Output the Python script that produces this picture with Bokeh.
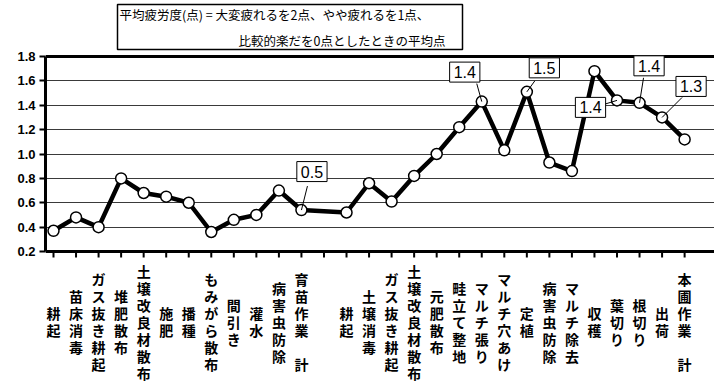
from bokeh.plotting import figure
from bokeh.models import Label, FixedTicker, NumeralTickFormatter, Span, BoxAnnotation
from bokeh.embed import file_html
from bokeh.resources import INLINE

categories = ["耕起", "苗床消毒", "ガス抜き耕起", "堆肥散布", "土壌改良材散布", "施肥", "播種",
              "もみがら散布", "間引き", "灌水", "病害虫防除", "育苗作業　計", "",
              "耕起", "土壌消毒", "ガス抜き耕起", "土壌改良材散布", "元肥散布", "畦立て整地",
              "マルチ張り", "マルチ穴あけ", "定植", "病害虫防除", "マルチ除去", "収穫", "葉切り",
              "根切り", "出荷", "本圃作業　計"]
values = [0.37, 0.48, 0.40, 0.80, 0.68, 0.65, 0.60, 0.36, 0.46, 0.50, 0.70, 0.54, None,
          0.52, 0.76, 0.61, 0.82, 1.00, 1.22, 1.43, 1.03, 1.51, 0.93, 0.86, 1.68, 1.44,
          1.42, 1.30, 1.12]
y_ticks = [0.2, 0.4, 0.6, 0.8, 1.0, 1.2, 1.4, 1.6, 1.8]
callout_idx = [11, 19, 21, 25, 26, 27]
title_lines = ["平均疲労度(点) = 大変疲れるを2点、やや疲れるを1点、",
               "比較的楽だを0点としたときの平均点"]

# layout constants (pixels)
W, H = 714, 383
FL, FR = 45, 714          # frame left/right
AT, AB = 56, 251          # pixel rows of the 1.8 and 0.2 levels
XPX = 22.54
X0 = -(53 - FL) / XPX
X1 = X0 + (FR - FL) / XPX
YPX = (AB - AT) / (y_ticks[-1] - y_ticks[0])


def ypix(py):
    return y_ticks[-1] + (AT - py) / YPX


def xpix(px):
    return X0 + (px - FL) / XPX


p = figure(width=W, height=H, x_range=(X0, X1), y_range=(ypix(H), ypix(0)),
           output_backend="svg", toolbar_location=None, x_axis_location=None,
           min_border_left=FL, min_border_right=W - FR, min_border_top=0,
           min_border_bottom=0)
p.outline_line_color = None
p.background_fill_color = "white"
p.border_fill_color = "white"

# y axis
p.yaxis.bounds = (y_ticks[0], y_ticks[-1])
p.yaxis.ticker = FixedTicker(ticks=y_ticks)
p.yaxis.formatter = NumeralTickFormatter(format="0.0")
p.yaxis.axis_line_width = 3
p.yaxis.axis_line_color = "black"
p.yaxis.major_tick_out = 6
p.yaxis.major_tick_in = 0
p.yaxis.major_tick_line_width = 2
p.yaxis.minor_tick_line_color = None
p.yaxis.major_label_text_font = "Liberation Sans"
p.yaxis.major_label_text_font_style = "bold"
p.yaxis.major_label_text_font_size = "13px"
p.yaxis.major_label_text_color = "black"
p.yaxis.major_label_standoff = 4

p.xgrid.grid_line_color = None
p.ygrid.ticker = FixedTicker(ticks=y_ticks[1:-1])
p.ygrid.grid_line_color = "#3a3a3a"
p.ygrid.grid_line_width = 1

# category axis line, top border and ticks
p.add_layout(Span(location=y_ticks[0], dimension="width", line_color="black", line_width=3))
p.add_layout(Span(location=y_ticks[-1], dimension="width", line_color="black", line_width=3))
tick_x = list(range(len(categories)))
p.segment(x0=tick_x, y0=[y_ticks[0]] * len(tick_x), x1=tick_x,
          y1=[y_ticks[0] - 6 / YPX] * len(tick_x), line_color="black", line_width=2)

# data line
xs = [i for i, v in enumerate(values) if v is not None]
ys = [v for v in values if v is not None]
p.line(xs, ys, line_color="black", line_width=4.5)
p.scatter(xs, ys, size=11, fill_color="white", line_color="black", line_width=1.5)

# category labels (vertical, stacked characters)
for i, c in enumerate(categories):
    if not c:
        continue
    p.add_layout(Label(x=i, y=ypix(321), text="\n".join(c), text_align="center",
                       text_baseline="middle", text_font="Noto Sans CJK JP",
                       text_font_style="bold", text_font_size="14px",
                       text_line_height=0.85, text_color="black"))

# callouts: (box center offset dx, dy in px; leader start offset in px)
callout_style = {
    11: (10.5, -38.5, 6, -24),
    19: (-17, -29.5, -5, -18),
    21: (17.5, -24, 8, -11),
    25: (-26.5, 7, -13, 4),
    26: (9.5, -37, 4, -25),
    27: (29, -31, 20, -20),
}
for i in callout_idx:
    v = values[i]
    dx, dy, lx, ly = callout_style[i]
    p.segment(x0=[i + lx / XPX], y0=[v - ly / YPX], x1=[i], y1=[v],
              line_color="black", line_width=1)
    p.add_layout(Label(x=i + dx / XPX, y=v - dy / YPX, text=f"{v:.1f}",
                       text_align="center", text_baseline="middle",
                       text_font="Liberation Sans", text_font_size="16px",
                       text_color="black", background_fill_color="white",
                       border_line_color="black", border_line_width=1, padding=4))

# title box
p.add_layout(BoxAnnotation(left=xpix(117), right=xpix(462), top=ypix(4), bottom=ypix(49),
                           fill_color="white", fill_alpha=1, line_color="black",
                           line_alpha=1, line_width=1.5))
p.add_layout(Label(x=xpix(119), y=ypix(14), text=title_lines[0], text_align="left",
                   text_baseline="middle", text_font="Noto Sans CJK JP",
                   text_font_size="12.5px", text_color="black"))
p.add_layout(Label(x=xpix(238), y=ypix(39.5), text=title_lines[1], text_align="left",
                   text_baseline="middle", text_font="Noto Sans CJK JP",
                   text_font_size="12.5px", text_color="black"))

open("out.html", "w").write(file_html(p, INLINE))
